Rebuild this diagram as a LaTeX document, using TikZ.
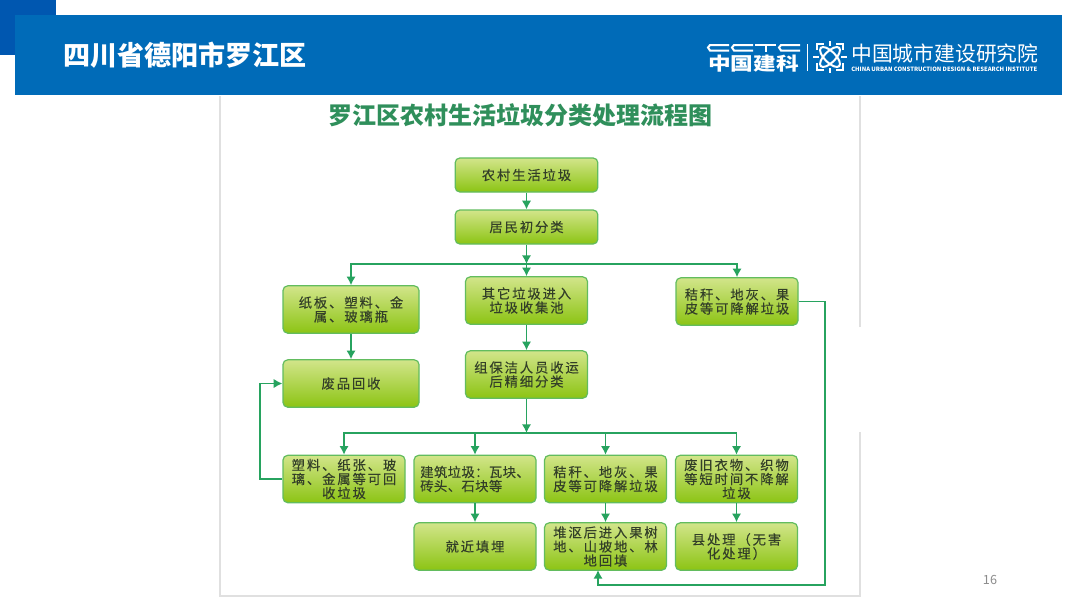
\documentclass[tikz,border=0pt]{standalone}
\usepackage{graphicx}
\usepackage{fontspec}
\setmainfont{Noto Sans CJK SC}
\newfontfamily\boxfont[LetterSpace=14,FakeBold=0.15]{Noto Sans CJK SC}
\newfontfamily\tightfont[LetterSpace=3,FakeBold=0.15]{Noto Sans CJK SC}
\usetikzlibrary{arrows.meta}
\definecolor{headblue}{HTML}{006BB8}
\definecolor{cornerblue}{HTML}{0057B0}
\definecolor{flowgreen}{HTML}{27A35F}
\definecolor{titlegreen}{HTML}{2F8F5B}
\definecolor{boxtop}{HTML}{D2E58A}
\definecolor{boxbottom}{HTML}{8CC414}
\definecolor{boxline}{HTML}{62BC5E}
\definecolor{boxtext}{HTML}{333F28}
\tikzset{
  wastebox/.style={draw=boxline, line width=0.9pt, rounded corners=3.5pt, top color=boxtop, bottom color=boxbottom,
    text=boxtext, align=center, inner sep=0pt, font=\boxfont\fontsize{10}{10.5}\selectfont},
  smallbox/.style={wastebox, minimum width=91.5pt, minimum height=35.5pt},
  widebox/.style={wastebox, minimum width=102pt, minimum height=35.5pt},
  flatbox/.style={wastebox, minimum width=107pt, minimum height=25.5pt},
  flow/.style={draw=flowgreen, line width=1.25pt, -{Latex[length=6.5pt,width=7pt]}},
  logoline/.style={draw=white, line width=1.5pt},
  logothin/.style={draw=white, line width=1pt}
}
\begin{document}
\begin{tikzpicture}[x=0.75pt,y=-0.75pt]
\useasboundingbox (0,0) rectangle (1080,607);
\fill[white] (0,0) rectangle (1080,607);
% header
\fill[cornerblue] (0,0) rectangle (56,55);
\fill[headblue] (15,15) rectangle (1062,95);
\node[text=white, anchor=west, inner sep=0pt, font=\fontsize{20.3}{20.3}\bfseries] (place) at (63,55) {四川省德阳市罗江区};
% logo
\foreach \cx in {708,732,779} {
  \draw[logoline] (\cx+21,45) -- (\cx+2,45) -- (\cx,47.5) -- (\cx+2,50.5) -- (\cx+21,50.5);
}
\draw[logoline] (755,45) -- (776,45);
\draw[logoline] (765.5,45) -- (765.5,52);
\node[text=white, anchor=west, inner sep=0pt, font=\fontsize{17}{17}\bfseries] (cabr) at (708,63.5) {\scalebox{1}[0.8]{中国建科}};
\draw[white, line width=0.5pt] (807,44) -- (807,71);
\draw[logothin] (817,50) -- (817,44) -- (824,44) (836,44) -- (843,44) -- (843,50) (843,63) -- (843,70) -- (836,70) (824,70) -- (817,70) -- (817,63);
\draw[logothin] (830,41) -- (830,46) (830,68) -- (830,73) (813,57) -- (819,57) (841,57) -- (847,57);
\draw[logoline, rotate around={45:(830,57)}] (830,57) ellipse (13 and 5.5);
\draw[logoline, rotate around={-45:(830,57)}] (830,57) ellipse (13 and 5.5);
\node[text=white, anchor=west, inner sep=0pt, font=\fontsize{15.6}{15.6}\selectfont] (cucd) at (851,54) {中国城市建设研究院};
\node[text=white, anchor=west, inner sep=0pt, font=\fontsize{4.4}{4.4}\bfseries] (cucden) at (851,69) {CHINA URBAN CONSTRUCTION DESIGN \& RESEARCH INSTITUTE};
% picture frame
\draw[black!12, line width=0.8pt] (220,96) -- (220,596) -- (860,596) -- (860,432);
\draw[black!12, line width=0.8pt] (860,327) -- (860,96);
\node[text=titlegreen, inner sep=0pt, font=\fontsize{18}{18}\bfseries] (title) at (520,115) {罗江区农村生活垃圾分类处理流程图};
% boxes
\node[flatbox] (source) at (526.5,175) {农村生活垃圾};
\node[flatbox] (sorting) at (526.5,227) {居民初分类};
\node[widebox] (paper) at (351,309.5) {纸板、塑料、金\\属、玻璃瓶};
\node[smallbox] (other) at (526.5,300.5) {其它垃圾进入\\垃圾收集池};
\node[smallbox] (strawtop) at (737,301.5) {秸秆、地灰、果\\皮等可降解垃圾};
\node[widebox] (recycle) at (351,383.5) {废品回收};
\node[smallbox] (cleaner) at (526.5,374.5) {组保洁人员收运\\后精细分类};
\node[smallbox] (plastic) at (344,479) {塑料、纸张、玻\\璃、金属等可回\\收垃圾};
\node[smallbox, align=left, font=\tightfont\fontsize{10}{10.5}\selectfont] (rubble) at (475,479) {建筑垃圾：瓦块、\\砖头、石块等};
\node[smallbox] (straw) at (605.5,479) {秸秆、地灰、果\\皮等可降解垃圾};
\node[smallbox] (clothes) at (736.5,479) {废旧衣物、织物\\等短时间不降解\\垃圾};
\node[smallbox] (landfill) at (475,546.5) {就近填埋};
\node[smallbox] (pile) at (605.5,546.5) {堆沤后进入果树\\地、山坡地、林\\地回填};
\node[smallbox] (county) at (736.5,546.5) {县处理（无害\\化处理）};
% connectors
\coordinate (busup) at (526.5,264);
\coordinate (busdown) at (526.5,433);
\coordinate (loopleft) at (260,479);
\coordinate (loopright) at (825,585);
\coordinate (pilein) at (598,570);
\draw[flow] (source) -- (sorting);
\draw[flow] (sorting) -- (busup);
\draw[flow] (busup) -| (paper);
\draw[flow] (busup) -- (other);
\draw[flow] (busup) -| (strawtop);
\draw[flow] (paper) -- (recycle);
\draw[flow] (other) -- (cleaner);
\draw[flow] (cleaner) -- (busdown);
\draw[flow] (busdown) -| (plastic);
\draw[flow] (busdown) -| (rubble);
\draw[flow] (busdown) -| (straw);
\draw[flow] (busdown) -| (clothes);
\draw[flow] (rubble) -- (landfill);
\draw[flow] (straw) -- (pile);
\draw[flow] (clothes) -- (county);
\draw[flow] (plastic) -- (loopleft) |- (recycle);
\draw[flow] (strawtop) -| (loopright) -| (pilein);
% page number
\node[text=black!45, inner sep=0pt, font=\fontsize{9.5}{9.5}\selectfont] (pagenum) at (990,580) {16};
\end{tikzpicture}
\end{document}
